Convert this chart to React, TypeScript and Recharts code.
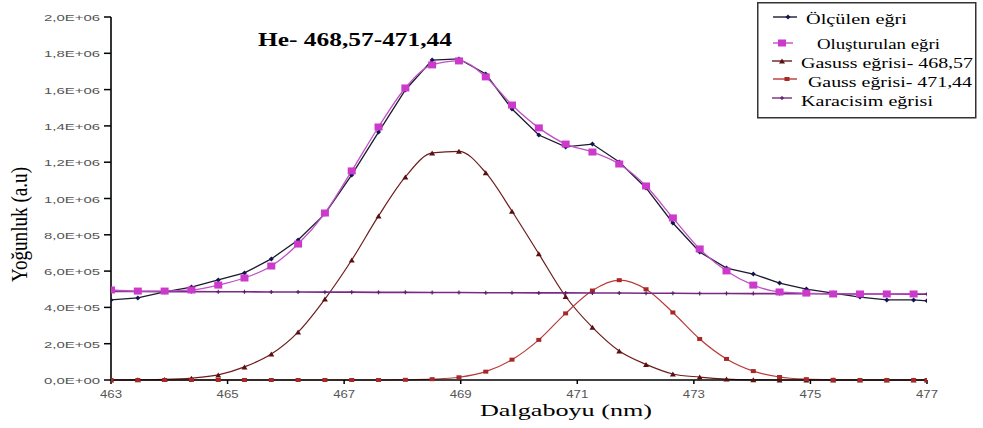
import React from 'react';
import { LineChart, Line, XAxis, YAxis, Legend } from 'recharts';

const wavelengths = [463.0, 463.46, 463.92, 464.38, 464.84, 465.29, 465.75, 466.21, 466.67, 467.13, 467.59, 468.05, 468.51, 468.97, 469.43, 469.88, 470.34, 470.8, 471.26, 471.72, 472.18, 472.64, 473.1, 473.56, 474.02, 474.47, 474.93, 475.39, 475.85, 476.31, 476.77, 477.0];

const measured = [441000, 452000, 485000, 512000, 551000, 590000, 667000, 771000, 915000, 1130000, 1366000, 1598000, 1763000, 1769000, 1686000, 1493000, 1350000, 1284000, 1300000, 1201000, 1058000, 865000, 705000, 617000, 584000, 534000, 501000, 479000, 457000, 441000, 441000, 436000];

const fitted = [496000, 490000, 490000, 496000, 523000, 562000, 628000, 749000, 920000, 1152000, 1394000, 1609000, 1736000, 1758000, 1670000, 1515000, 1389000, 1300000, 1256000, 1190000, 1069000, 893000, 722000, 601000, 523000, 485000, 479000, 474000, 474000, 474000, 474000, null];

const gauss468 = [0, 1000, 3000, 10000, 28000, 72000, 143000, 264000, 446000, 661000, 904000, 1119000, 1251000, 1260000, 1142000, 930000, 695000, 460000, 290000, 160000, 86000, 33000, 16000, 5000, 1000, 0, 0, 0, 0, 0, 0, 0];

const gauss471 = [0, 0, 0, 0, 0, 0, 0, 0, 0, 0, 0, 1000, 4500, 15000, 46000, 112000, 221000, 367000, 493000, 550000, 500000, 372000, 226000, 116000, 49000, 16500, 4500, 1000, 0, 0, 0, 0];

const blackbody = [488000, 488000, 487000, 487000, 486000, 486000, 485000, 485000, 484000, 484000, 483000, 483000, 482000, 482000, 481000, 481000, 480000, 480000, 479000, 479000, 478000, 478000, 477000, 477000, 476000, 476000, 475000, 475000, 474000, 474000, 473000, 473000];

const xTicks = [463, 465, 467, 469, 471, 473, 475, 477];
const yTicks = [0, 200000, 400000, 600000, 800000, 1000000, 1200000, 1400000, 1600000, 1800000, 2000000];

const titleText = 'He- 468,57-471,44';
const xTitle = 'Dalgaboyu (nm)';
const yTitle = 'Yoğunluk (a.u)';

const data = wavelengths.map((w, i) => ({
  w,
  measured: measured[i],
  fitted: fitted[i],
  gauss468: gauss468[i],
  gauss471: gauss471[i],
  blackbody: blackbody[i],
}));

type Shape = 'diamond' | 'square' | 'triangle' | 'cross';

function marker(shape: Shape, cx: number, cy: number, w: number, h: number, fill: string, key?: string) {
  if (shape === 'square') {
    return <rect key={key} x={cx - w / 2} y={cy - h / 2} width={w} height={h} fill={fill} />;
  }
  if (shape === 'diamond') {
    return <polygon key={key} points={`${cx},${cy - h / 2} ${cx + w / 2},${cy} ${cx},${cy + h / 2} ${cx - w / 2},${cy}`} fill={fill} />;
  }
  if (shape === 'triangle') {
    return <polygon key={key} points={`${cx},${cy - h / 2} ${cx + w / 2},${cy + h / 2} ${cx - w / 2},${cy + h / 2}`} fill={fill} />;
  }
  return (
    <g key={key}>
      <line x1={cx - w / 2} y1={cy} x2={cx + w / 2} y2={cy} stroke={fill} strokeWidth={1.2} />
      <line x1={cx} y1={cy - h / 2} x2={cx} y2={cy + h / 2} stroke={fill} strokeWidth={1.2} />
    </g>
  );
}

const makeDot = (shape: Shape, w: number, h: number, fill: string) => (props: any) => {
  const { cx, cy, index } = props;
  const key = `dot-${shape}-${index}`;
  if (cx == null || cy == null || isNaN(cx) || isNaN(cy)) return <g key={key} />;
  return marker(shape, cx, cy, w, h, fill, key);
};

const series = [
  { key: 'measured', name: 'Ölçülen eğri', stroke: '#1a1a2e', width: 1.3, shape: 'diamond' as Shape, mw: 5, mh: 5, mfill: '#141450', type: 'linear' },
  { key: 'fitted', name: 'Oluşturulan eğri', stroke: '#c050c8', width: 1.3, shape: 'square' as Shape, mw: 8, mh: 7, mfill: '#cc3acc', type: 'monotone' },
  { key: 'gauss468', name: 'Gasuss eğrisi- 468,57', stroke: '#6e1c1c', width: 1.2, shape: 'triangle' as Shape, mw: 6, mh: 5, mfill: '#5a1010', type: 'monotone' },
  { key: 'gauss471', name: 'Gauss eğrisi- 471,44', stroke: '#b83a3a', width: 1.2, shape: 'square' as Shape, mw: 5, mh: 4, mfill: '#a82828', type: 'monotone' },
  { key: 'blackbody', name: 'Karacisim eğrisi', stroke: '#7a2a85', width: 1.6, shape: 'cross' as Shape, mw: 4, mh: 4, mfill: '#5e1f6a', type: 'linear' },
];

const drawOrder = ['gauss468', 'gauss471', 'blackbody', 'measured', 'fitted'];

function fmtSci(v: number) {
  if (v === 0) return '0,0E+00';
  const e = Math.floor(Math.log10(v) + 1e-9);
  const m = v / Math.pow(10, e);
  return m.toFixed(1).replace('.', ',') + 'E+' + String(e).padStart(2, '0');
}

const XTick = (props: any) => {
  const { x, y, payload } = props;
  return (
    <text x={x} y={y + 12} textAnchor="middle" fontFamily="Liberation Sans, Arial, sans-serif" fontSize={10} fill="#555" textLength={22} lengthAdjust="spacingAndGlyphs">
      {String(payload.value)}
    </text>
  );
};

const YTick = (props: any) => {
  const { x, y, payload } = props;
  return (
    <text x={x - 2} y={y + 4} textAnchor="end" fontFamily="Liberation Sans, Arial, sans-serif" fontSize={9} fill="#555" textLength={56} lengthAdjust="spacingAndGlyphs">
      {fmtSci(payload.value)}
    </text>
  );
};

const legendLayout = [
  { key: 'measured', x1: 16, x2: 40, ly: 15, mx: 31, tx: 49, ty: 22, tl: 101 },
  { key: 'fitted', x1: 16, x2: 36, ly: 41, mx: 25, tx: 60, ty: 47, tl: 123 },
  { key: 'gauss468', x1: 15, x2: 35, ly: 59, mx: 25, tx: 44, ty: 66, tl: 172 },
  { key: 'gauss471', x1: 16, x2: 40, ly: 77, mx: 30, tx: 51, ty: 85, tl: 164 },
  { key: 'blackbody', x1: 15, x2: 35, ly: 96, mx: 25, tx: 44, ty: 104, tl: 132 },
];

const renderLegend = () => (
  <svg width={220} height={117} style={{ display: 'block' }}>
    <rect x={0.75} y={0.75} width={218} height={115} fill="#fff" stroke="#333" strokeWidth={1.5} />
    {legendLayout.map((r) => {
      const s = series.find((q) => q.key === r.key)!;
      return (
        <g key={r.key}>
          <line x1={r.x1} y1={r.ly} x2={r.x2} y2={r.ly} stroke={s.stroke} strokeWidth={1.4} />
          {marker(s.shape, r.mx, r.ly, s.mw, s.mh, s.mfill)}
          <text x={r.tx} y={r.ty} fontFamily="Liberation Serif, 'Times New Roman', serif" fontSize={15} fill="#000" textLength={r.tl} lengthAdjust="spacingAndGlyphs">
            {s.name}
          </text>
        </g>
      );
    })}
  </svg>
);

export default function App() {
  return (
    <div style={{ position: 'absolute', left: 0, top: 0, width: 983, height: 428, background: '#fff' }}>
      <LineChart width={983} height={428} data={data} margin={{ top: 17, right: 56, bottom: 18, left: 51 }}>
        <XAxis
          dataKey="w"
          type="number"
          domain={[463, 477]}
          ticks={xTicks}
          allowDataOverflow
          height={30}
          stroke="#000"
          axisLine={{ stroke: '#000', strokeWidth: 1.5 }}
          tickLine={{ stroke: '#000', strokeWidth: 1.5 }}
          tickSize={4}
          tick={<XTick />}
          interval={0}
        />
        <YAxis
          type="number"
          domain={[0, 2000000]}
          ticks={yTicks}
          width={60}
          stroke="#000"
          axisLine={{ stroke: '#000', strokeWidth: 1.6 }}
          tickLine={{ stroke: '#000', strokeWidth: 1.5 }}
          tickSize={7}
          tick={<YTick />}
          interval={0}
        />
        <Legend
          layout="vertical"
          align="center"
          verticalAlign="middle"
          content={renderLegend}
          wrapperStyle={{ position: 'absolute', left: 757, top: 2, width: 220, height: 117 }}
        />
        {drawOrder.map((k) => {
          const s = series.find((q) => q.key === k)!;
          return (
            <Line
              key={s.key}
              dataKey={s.key}
              name={s.name}
              type={s.type as any}
              stroke={s.stroke}
              strokeWidth={s.width}
              dot={makeDot(s.shape, s.mw, s.mh, s.mfill)}
              activeDot={false}
              isAnimationActive={false}
              connectNulls={false}
            />
          );
        })}
      </LineChart>
      <svg width={983} height={428} style={{ position: 'absolute', left: 0, top: 0, pointerEvents: 'none' }}>
        <text x={258} y={46} fontFamily="Liberation Serif, 'Times New Roman', serif" fontWeight="bold" fontSize={19} fill="#000" textLength={194} lengthAdjust="spacingAndGlyphs">
          {titleText}
        </text>
        <text x={480} y={416} fontFamily="Liberation Serif, 'Times New Roman', serif" fontSize={17} fill="#000" textLength={172} lengthAdjust="spacingAndGlyphs">
          {xTitle}
        </text>
        <text transform="translate(27,224.5) scale(1.3,1) rotate(-90)" x={0} y={0} textAnchor="middle" fontFamily="Liberation Serif, 'Times New Roman', serif" fontSize={18} fill="#000" textLength={115} lengthAdjust="spacingAndGlyphs">
          {yTitle}
        </text>
      </svg>
    </div>
  );
}
